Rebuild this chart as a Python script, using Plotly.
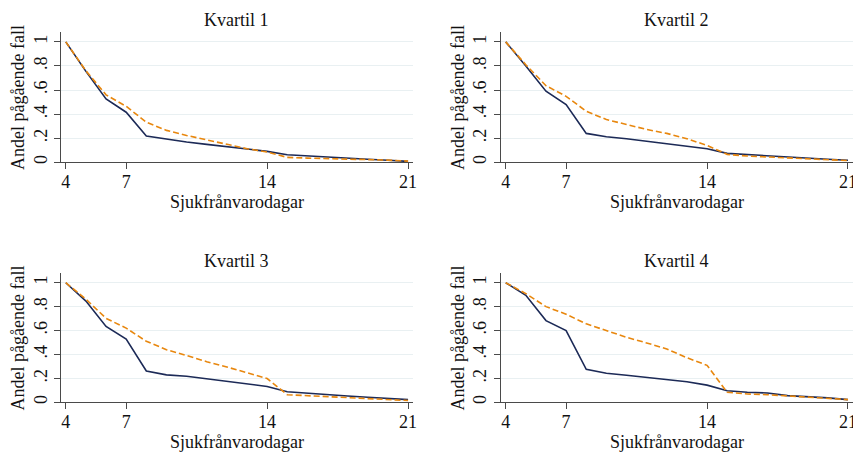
import plotly.graph_objects as go

days = list(range(4, 22))
titles = ["Kvartil 1", "Kvartil 2", "Kvartil 3", "Kvartil 4"]

q1_solid = [1.0, 0.755, 0.526, 0.416, 0.218, 0.19, 0.168, 0.149, 0.13, 0.107, 0.091, 0.063, 0.052, 0.044, 0.033, 0.025, 0.017, 0.008]
q1_dash = [1.0, 0.76, 0.56, 0.465, 0.333, 0.265, 0.223, 0.185, 0.149, 0.113, 0.085, 0.041, 0.035, 0.032, 0.028, 0.024, 0.018, 0.01]
q2_solid = [1.0, 0.80, 0.59, 0.48, 0.24, 0.212, 0.196, 0.176, 0.157, 0.138, 0.113, 0.074, 0.063, 0.052, 0.041, 0.033, 0.025, 0.017]
q2_dash = [1.0, 0.81, 0.636, 0.548, 0.424, 0.355, 0.314, 0.273, 0.24, 0.196, 0.14, 0.066, 0.052, 0.044, 0.036, 0.03, 0.022, 0.014]
q3_solid = [1.0, 0.846, 0.634, 0.529, 0.262, 0.229, 0.218, 0.198, 0.176, 0.154, 0.132, 0.088, 0.074, 0.063, 0.052, 0.041, 0.03, 0.022]
q3_dash = [1.0, 0.862, 0.702, 0.62, 0.51, 0.44, 0.391, 0.339, 0.295, 0.248, 0.198, 0.063, 0.055, 0.047, 0.039, 0.03, 0.022, 0.014]
q4_solid = [1.0, 0.895, 0.683, 0.60, 0.275, 0.242, 0.226, 0.209, 0.193, 0.171, 0.143, 0.096, 0.083, 0.077, 0.055, 0.047, 0.036, 0.022]
q4_dash = [1.0, 0.909, 0.80, 0.736, 0.656, 0.598, 0.543, 0.496, 0.446, 0.372, 0.309, 0.083, 0.069, 0.063, 0.052, 0.044, 0.033, 0.022]

solids = [q1_solid, q2_solid, q3_solid, q4_solid]
dashes = [q1_dash, q2_dash, q3_dash, q4_dash]

x_ticks = [4, 7, 14, 21]
y_ticks = [0, 0.2, 0.4, 0.6, 0.8, 1]
y_tick_text = ["0", ".2", ".4", ".6", ".8", "1"]
x_title = "Sjukfrånvarodagar"
y_title = "Andel pågående fall"

OFF = 8  # page body margin
W, H = 861 - OFF, 453 - OFF
FONT = "Liberation Serif, Times New Roman, serif"
FS = 18
NAVY = "#1c2a57"
ORANGE = "#e8870e"
AXC = "#4a4a4a"
GRID = "#e9f0f2"
TXT = "#111111"

# panel pixel boxes in window coords: (left, right, top, bottom)
boxes = [(61, 415, 32, 163), (503, 857, 32, 163), (61, 415, 274, 404), (503, 857, 274, 404)]

fig = go.Figure()
layout = dict(width=W, height=H, margin=dict(l=0, r=0, t=0, b=0),
              paper_bgcolor="white", plot_bgcolor="white", showlegend=False,
              font=dict(family=FONT, size=FS, color=TXT))
annotations = []


def px(x):
    return (x - OFF) / W


def py(y):
    return 1 - (y - OFF) / H


for i in range(4):
    sfx = "" if i == 0 else str(i + 1)
    l, r, t, b = boxes[i]
    fig.add_trace(go.Scatter(x=days, y=solids[i], mode="lines", line=dict(color=NAVY, width=1.6),
                             xaxis="x" + sfx, yaxis="y" + sfx))
    fig.add_trace(go.Scatter(x=days, y=dashes[i], mode="lines", line=dict(color=ORANGE, width=1.6, dash="6px,3px"),
                             xaxis="x" + sfx, yaxis="y" + sfx))
    layout["xaxis" + sfx] = dict(domain=[px(l), min(px(r), 1)], anchor="y" + sfx, range=[3.75, 21.25],
                                 tickvals=x_ticks, ticks="outside", ticklen=6, tickcolor=AXC,
                                 ticklabelstandoff=-3,
                                 showline=True, linecolor=AXC, linewidth=1, showgrid=False, zeroline=False,
                                 tickfont=dict(size=FS, family=FONT, color=TXT))
    layout["yaxis" + sfx] = dict(domain=[py(b), py(t)], anchor="x" + sfx, range=[0, 1.083],
                                 tickvals=y_ticks, ticktext=y_tick_text, tickangle=-90,
                                 ticks="outside", ticklen=6, tickcolor=AXC,
                                 showline=True, linecolor=AXC, linewidth=1,
                                 showgrid=True, gridcolor=GRID, gridwidth=1, zeroline=False,
                                 tickfont=dict(size=FS, family=FONT, color=TXT))
    cx = px((l + r) / 2)
    annotations.append(dict(text=titles[i], x=cx, y=py(t - 12), xref="paper", yref="paper",
                            showarrow=False, xanchor="center", yanchor="middle",
                            font=dict(size=FS, family=FONT, color=TXT)))
    annotations.append(dict(text=x_title, x=cx, y=py(b + 40), xref="paper", yref="paper",
                            showarrow=False, xanchor="center", yanchor="middle",
                            font=dict(size=FS, family=FONT, color=TXT)))
    annotations.append(dict(text=y_title, x=px(l - 43), y=py((t + b) / 2), xref="paper", yref="paper",
                            showarrow=False, xanchor="center", yanchor="middle", textangle=-90,
                            font=dict(size=FS, family=FONT, color=TXT)))
layout["annotations"] = annotations
fig.update_layout(**layout)
fig.write_html("out.html")
